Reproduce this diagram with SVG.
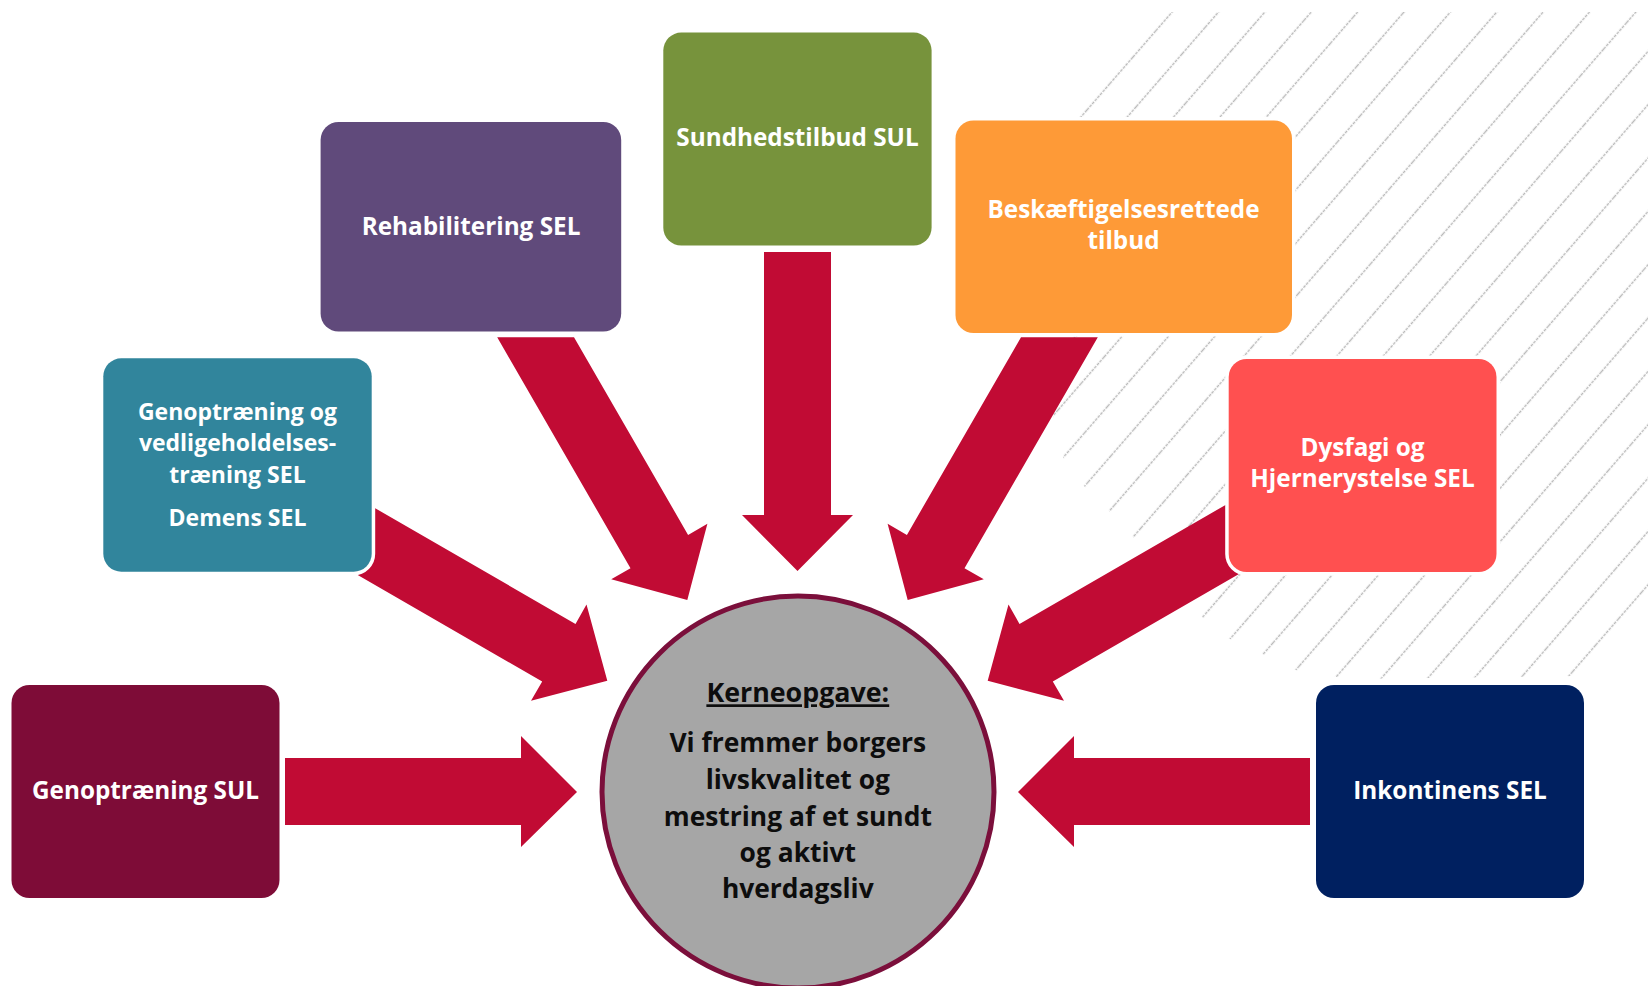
<svg xmlns="http://www.w3.org/2000/svg" width="1648" height="986" viewBox="0 0 1648 986">
<style>
.box{stroke:#ffffff;stroke-width:7;paint-order:stroke}
.lbl{font-family:"Open Sans","Noto Sans","DejaVu Sans",sans-serif;font-weight:700;font-size:24.3px;fill:#ffffff;text-anchor:middle}
.sm{font-size:23px}
.ctr{font-family:"Open Sans","Noto Sans","DejaVu Sans",sans-serif;font-weight:700;font-size:26.4px;fill:#0d0d0d;text-anchor:middle}
.arrow{fill:#c10b34}
</style>
<defs>
<pattern id="hatch" patternUnits="userSpaceOnUse" width="35" height="35" patternTransform="rotate(41)">
<line x1="17.5" y1="0" x2="17.5" y2="35" stroke="#b9b9b9" stroke-width="1.4" stroke-dasharray="3 1"/>
</pattern>
</defs>
<rect x="0" y="0" width="1648" height="986" fill="#ffffff"/>
<g id="background-hatch">
<path d="M1168,12 L1648,12 L1648,625 L1575,676 L1350,679 L1300,672 L1215,632 L1120,522 L1068,470 L1053,430 L1055,360 L1068,250 L1078,113 Q1110,50 1168,12 Z" fill="url(#hatch)"/>
</g>
<g id="connectors">
<polygon class="arrow" points="285,758 521,758 521,736 577,792 521,847 521,825 285,825"/>
<polygon class="arrow" points="1310,758 1074,758 1074,736 1018,792 1074,847 1074,825 1310,825"/>
<polygon class="arrow" points="764,252 831,252 831,515 853,515 797.5,571 742,515 764,515"/>
<polygon class="arrow" points="497.2,337.3 574,337.3 688.1,534.9 707.4,523.8 687.3,600 611.2,579.3 630.5,568.2"/>
<polygon class="arrow" points="1097.8,337.3 1021,337.3 906.9,534.9 887.6,523.8 907.7,600 983.8,579.3 964.5,568.2"/>
<polygon class="arrow" points="359,498.9 575.5,623.9 586.5,604.6 607.3,680.7 531,700.8 542.2,681.5 325.7,556.5"/>
<polygon class="arrow" points="1236,498.9 1019.5,623.9 1008.5,604.6 987.7,680.7 1064,700.8 1052.8,681.5 1269.3,556.5"/>
</g>
<g id="node-genoptraening-sul">
<rect class="box" x="11.5" y="685" width="268" height="213" rx="18" fill="#7e0c37"/>
<text class="lbl" x="145.5" y="799">Genoptræning SUL</text>
</g>
<g id="node-genoptraening-sel">
<rect class="box" x="103.3" y="358.3" width="268.4" height="213.4" rx="18" fill="#31859c"/>
<text class="lbl sm" x="237.5" y="420">Genoptræning og</text>
<text class="lbl sm" x="237.5" y="451.4">vedligeholdelses-</text>
<text class="lbl sm" x="237.5" y="482.8">træning SEL</text>
<text class="lbl sm" x="237.5" y="525.5">Demens SEL</text>
</g>
<g id="node-rehabilitering">
<rect class="box" x="320.6" y="122" width="300.6" height="209.5" rx="18" fill="#604a7b"/>
<text class="lbl" x="471" y="234.5">Rehabilitering SEL</text>
</g>
<g id="node-sundhedstilbud">
<rect class="box" x="663.3" y="32.6" width="268.3" height="213" rx="18" fill="#77933c"/>
<text class="lbl" x="797.5" y="146">Sundhedstilbud SUL</text>
</g>
<g id="node-beskaeftigelse">
<rect class="box" x="955.5" y="120.5" width="336.5" height="212.5" rx="18" fill="#fe9a37"/>
<text class="lbl" x="1123.5" y="218.3">Beskæftigelsesrettede</text>
<text class="lbl" x="1123.5" y="249.3">tilbud</text>
</g>
<g id="node-dysfagi">
<rect class="box" x="1228.7" y="359" width="267.8" height="213" rx="18" fill="#ff5050"/>
<text class="lbl" x="1362.5" y="456">Dysfagi og</text>
<text class="lbl" x="1362.5" y="487.3">Hjernerystelse SEL</text>
</g>
<g id="node-inkontinens">
<rect class="box" x="1316" y="685" width="268" height="213" rx="18" fill="#002060"/>
<text class="lbl" x="1450" y="799">Inkontinens SEL</text>
</g>
<g id="node-kerneopgave">
<circle cx="798" cy="792" r="196" fill="#a6a6a6" stroke="#7b0f3b" stroke-width="5"/>
<text class="ctr" x="797.8" y="702.3" style="text-decoration:underline;font-size:26.8px">Kerneopgave:</text>
<text class="ctr" x="797.8" y="751.7">Vi fremmer borgers</text>
<text class="ctr" x="797.8" y="789">livskvalitet og</text>
<text class="ctr" x="797.8" y="825.5">mestring af et sundt</text>
<text class="ctr" x="797.8" y="862">og aktivt</text>
<text class="ctr" x="797.8" y="898.3">hverdagsliv</text>
</g>
</svg>
